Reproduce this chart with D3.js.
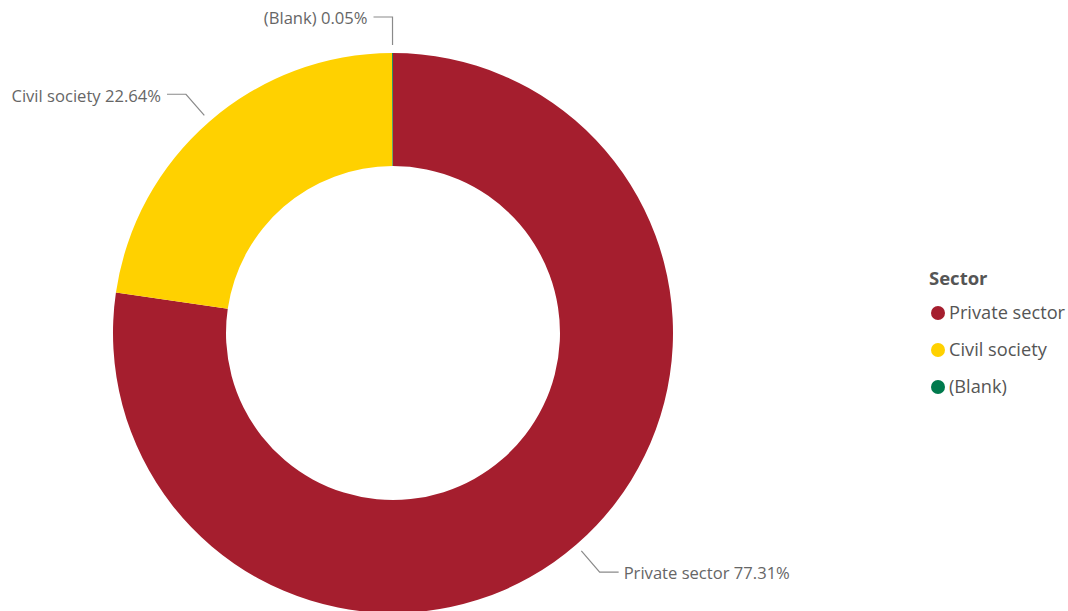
<!DOCTYPE html>
<html>
<head>
<meta charset="utf-8">
<script src="https://cdn.jsdelivr.net/npm/d3@7"></script>
<style>
  html, body { margin: 0; padding: 0; background: #fff; }
  svg { display: block; }
</style>
</head>
<body>
<svg id="chart" width="1068" height="611"></svg>
<script>
// Share of funding by sector
const sectors = ["Private sector", "Civil society", "(Blank)"];
const shares = [77.31, 22.64, 0.05];
const colors = ["#A51E2E", "#FFD100", "#007A4D"];
const legendTitle = "Sector";

const W = 1068, H = 611;
const cx = 393, cy = 333;
const outerR = 280, innerR = 167;
const font = "'Segoe UI', 'Open Sans', 'Noto Sans', sans-serif";

const svg = d3.select("#chart");
const data = sectors.map((s, i) => ({ name: s, value: shares[i], color: colors[i] }));

const pie = d3.pie().value(d => d.value).sort(null);
const arc = d3.arc().innerRadius(innerR).outerRadius(outerR);
const arcs = pie(data);

const g = svg.append("g").attr("transform", `translate(${cx},${cy})`);

g.selectAll("path.slice")
  .data(arcs)
  .join("path")
  .attr("class", "slice")
  .attr("d", arc)
  .attr("fill", d => d.data.color);

// Leader lines and labels
const startArc = d3.arc().innerRadius(outerR + 8).outerRadius(outerR + 8);
const elbowArc = d3.arc().innerRadius(outerR + 36).outerRadius(outerR + 36);
const tail = 19;

const labels = g.append("g");
arcs.forEach(d => {
  const mid = (d.startAngle + d.endAngle) / 2;
  const right = mid < Math.PI;
  const p0 = startArc.centroid(d);
  const p1 = elbowArc.centroid(d);
  const p2 = [p1[0] + (right ? tail : -tail), p1[1]];
  labels.append("polyline")
    .attr("points", [p0, p1, p2].map(p => p.join(",")).join(" "))
    .attr("fill", "none")
    .attr("stroke", "#8a8a8a")
    .attr("stroke-width", 1.2);
  labels.append("text")
    .attr("x", p2[0] + (right ? 5 : -6))
    .attr("y", p1[1] + 3)
    .attr("text-anchor", right ? "start" : "end")
    .attr("dominant-baseline", "middle")
    .attr("font-family", font)
    .attr("font-size", 16.6)
    .attr("fill", "#666")
    .text(`${d.data.name} ${d.data.value.toFixed(2)}%`);
});

// Legend
const legend = svg.append("g").attr("transform", "translate(929,280)");
legend.append("text")
  .attr("x", 0).attr("y", 0)
  .attr("dominant-baseline", "middle")
  .attr("font-family", font)
  .attr("font-size", 18.5)
  .attr("font-weight", "bold")
  .attr("fill", "#555")
  .text(legendTitle);

const items = legend.selectAll("g.item")
  .data(data)
  .join("g")
  .attr("class", "item")
  .attr("transform", (d, i) => `translate(0,${33 + i * 37})`);
items.append("circle")
  .attr("cx", 9).attr("cy", 0).attr("r", 7)
  .attr("fill", d => d.color);
items.append("text")
  .attr("x", 20).attr("y", 1)
  .attr("dominant-baseline", "middle")
  .attr("font-family", font)
  .attr("font-size", 18.2)
  .attr("fill", "#555")
  .text(d => d.name);
</script>
</body>
</html>
